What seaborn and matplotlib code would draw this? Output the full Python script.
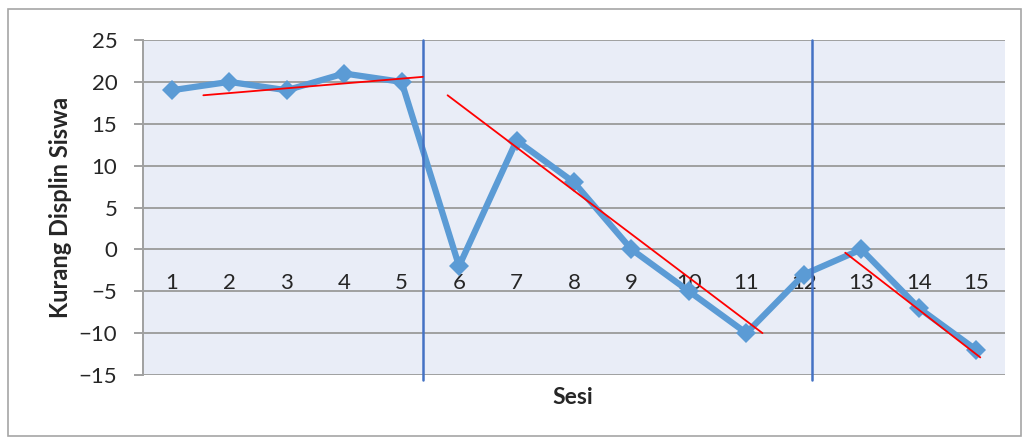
import matplotlib
matplotlib.use('Agg')
import matplotlib.pyplot as plt
import seaborn as sns
from matplotlib.patches import Rectangle

# data
sesi = list(range(1, 16))
nilai = [19, 20, 19, 21, 20, -2, 13, 8, 0, -5, -10, -3, 0, -7, -12]
yticks = [25, 20, 15, 10, 5, 0, -5, -10, -15]

# phase separators (between sessions)
batas_fase = [5.37, 12.15]

# trend lines per phase: (x start, x end), (y start, y end)
tren_x = [(1.55, 5.37), (5.8, 11.28), (12.72, 15.07)]
tren_y = [(18.4, 20.6), (18.4, -10.0), (-0.4, -12.9)]

sns.set_style('white')
plt.rcParams['font.family'] = ['Lato', 'DejaVu Sans']

fig = plt.figure(figsize=(10.23, 4.37), dpi=100)
ax = fig.add_axes([143/1023, 1 - 375/437, (1005 - 143)/1023, (375 - 40)/437])
ax.set_facecolor('#E9EDF7')

# outer chart border
fig.patches.append(Rectangle((8/1023, 0.002), 1 - 8/1023 - 0.002, 1 - 9/437 - 0.002,
                             transform=fig.transFigure, fill=False,
                             edgecolor='#A6A6A6', linewidth=1.2))

for y in yticks:
    ax.axhline(y, color='#A0A0A0', linewidth=1.4, zorder=1)

sns.lineplot(x=sesi, y=nilai, ax=ax, color='#5B9BD5', linewidth=4.5,
             marker='D', markersize=10, markeredgewidth=0, zorder=3)

for xb in batas_fase:
    ax.plot([xb, xb], [25, -15.6], color='#4472C4', linewidth=1.8,
            zorder=4, clip_on=False)

for xs, ys in zip(tren_x, tren_y):
    ax.plot(xs, ys, color='#FF0000', linewidth=1.3, zorder=5)

ax.set_xlim(0.5, 15.5)
ax.set_ylim(-15, 25)
ax.set_yticks(yticks)
ax.set_xticks(sesi)
ax.set_xticklabels([str(s) for s in sesi])

ax.spines['bottom'].set_position(('data', 0))
for side in ['top', 'right', 'bottom']:
    ax.spines[side].set_visible(False)
ax.spines['left'].set_color('#A0A0A0')
ax.spines['left'].set_linewidth(1.4)

ax.tick_params(axis='y', length=6.5, width=1.4, color='#A0A0A0',
               labelsize=16, pad=12, left=True)
ax.tick_params(axis='x', length=0, labelsize=16, pad=17)

ax.set_xlabel('')
ax.set_ylabel('Kurang Displin Siswa', fontsize=17, fontweight='bold', labelpad=5)
fig.text(573/1023, 1 - 397/437, 'Sesi', ha='center', va='center',
         fontsize=16.5, fontweight='bold')

fig.savefig('out.png', dpi=100)
